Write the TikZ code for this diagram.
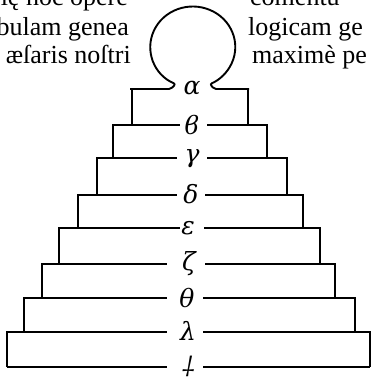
\documentclass[tikz,border=0pt]{standalone}
\usepackage{fontspec}
\setmainfont{Liberation Serif}
\newfontfamily\grk{DejaVu Serif}

\begin{document}
\begin{tikzpicture}[x=1pt,y=-1pt,
  stair/.style={line width=1.9pt},
  greek/.style={font=\grk\itshape\fontsize{25}{25}\selectfont, inner sep=0pt},
  prose/.style={font=\fontsize{26}{26}\selectfont, inner sep=0pt}]
\clip (0,0) rectangle (373,381);
\useasboundingbox (0,0) rectangle (373,381);

% text round the figure
\node[prose, anchor=base east] (l1) at (128,5) {ię hoc opere};
\node[prose, anchor=base east] (l2) at (129,35) {bulam genea};
\node[prose, anchor=base east] (l3) at (131,63) {æſaris noſtri};
\node[prose, anchor=base west] (r1) at (250,5) {comentu};
\node[prose, anchor=base west] (r2) at (248,35) {logicam ge};
\node[prose, anchor=base west] (r3) at (252,63) {maximè pe};

% the ring
\draw[stair, rounded corners=2pt] (130,89) -- (171,89) -- (175.5,84)
  arc[start angle=114, end angle=426, x radius=42.5, y radius=40.5]
  -- (214,89) -- (249,89);
\draw[stair] (132,89) -- (132,125);
\draw[stair] (248,89) -- (248,125);

% the steps
\draw[stair] (113,158) |- (180,125);
\draw[stair] (207,125) -| (267,158);
\draw[stair] (97,195) |- (177,158);
\draw[stair] (207,158) -| (287,195);
\draw[stair] (78,228) |- (177,195);
\draw[stair] (205,195) -| (303,228);
\draw[stair] (59,264) |- (180,228);
\draw[stair] (204,228) -| (320,264);
\draw[stair] (42,298) |- (167,264);
\draw[stair] (205,264) -| (335,298);
\draw[stair] (24,332) |- (167,298);
\draw[stair] (203,298) -| (355,332);
\draw[stair] (7,367) |- (167,332);
\draw[stair] (203,332) -| (370,367);
\draw[stair] (7,367) -- (167,367);
\draw[stair] (203,367) -- (370,367);

% letters
\node[greek] (al) at (192,88) {α};
\node[greek] (be) at (192,125) {ϐ};
\node[greek] (ga) at (192,159) {γ};
\node[greek] (de) at (191,194) {δ};
\node[greek] (ep) at (188,228) {ε};
\node[greek] (ze) at (189,264) {ζ};
\node[greek] (th) at (187,298) {θ};
\node[greek] (la) at (188,331) {λ};
\node[greek, rotate=180] (cr) at (189,366) {†};
\end{tikzpicture}
\end{document}
